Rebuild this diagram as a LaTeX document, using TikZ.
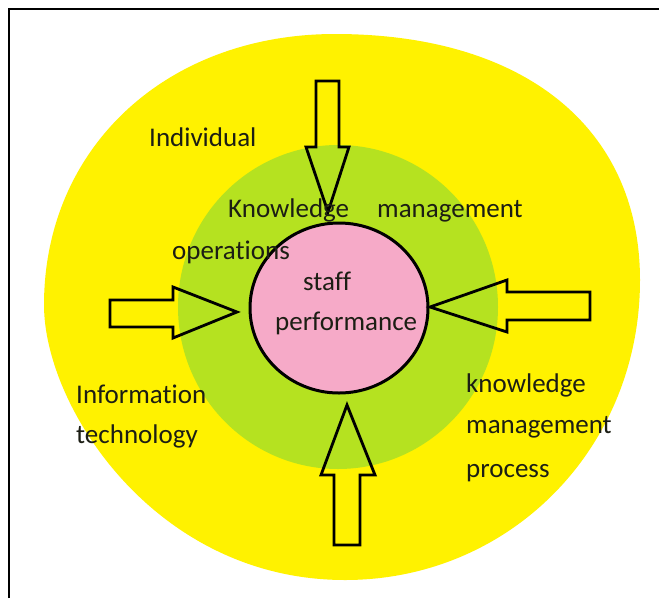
\documentclass[tikz,border=0pt]{standalone}
\usepackage{fontspec}
\setmainfont{Carlito}[Ligatures=NoCommon]
\usetikzlibrary{shapes.geometric}
\definecolor{outeryellow}{RGB}{255,242,0}
\definecolor{innergreen}{RGB}{181,226,32}
\definecolor{corepink}{RGB}{246,170,200}
\definecolor{inktext}{RGB}{28,30,20}
\begin{document}
\begin{tikzpicture}[x=1pt,y=-1pt,
  lbl/.style={anchor=base west, inner sep=0pt, font=\fontsize{27}{27}\selectfont, text=inktext},
  blockarrow/.style={draw=black, line width=2.8pt, line join=miter},
]
\useasboundingbox (0,0) rectangle (659,598);
\fill[white] (0,0) rectangle (659,598);

% frame (left and top edges only)
\draw[line width=2.2pt] (9,598) -- (9,9) -- (659,9);

% outer yellow region, four quarter curves
\fill[outeryellow] (335,34)
  .. controls (524.1,34) and (640,127.5) .. (640,280)
  .. controls (640,448) and (510.2,580) .. (345,580)
  .. controls (155.4,580) and (44,406.8) .. (44,305)
  .. controls (44,147.8) and (166.2,34) .. (335,34) -- cycle;

% green ring
\fill[innergreen] (338,307) ellipse [x radius=160pt, y radius=162pt];

% pink core
\node[ellipse, draw=black, line width=3pt, fill=corepink,
      minimum width=178pt, minimum height=170pt, inner sep=0pt] (core) at (339,308) {};

% block arrows pointing at the core
\draw[blockarrow] (316,81) -- (339,81) -- (339,147) -- (349,147) -- (328,212)
  -- (306,147) -- (316,147) -- cycle;
\draw[blockarrow] (110,300) -- (173,300) -- (173,287) -- (237,312) -- (173,338)
  -- (173,327) -- (110,327) -- cycle;
\draw[blockarrow] (590,292) -- (507,292) -- (507,280) -- (430,307) -- (507,332)
  -- (507,320) -- (590,320) -- cycle;
\draw[blockarrow] (334,545) -- (334,475) -- (321,475) -- (347,405) -- (375,475)
  -- (360,475) -- (360,545) -- cycle;

% labels
\node[lbl] (individual) at (149,146) {Individual};
\node[lbl] (kmA) at (228,217) {Knowledge};
\node[lbl] (kmB) at (377,217) {management};
\node[lbl] (ops) at (172,259) {operations};
\node[lbl] (staff) at (303,290) {staff};
\node[lbl] (perf) at (275,330) {performance};
\node[lbl] (itA) at (76,403) {Information};
\node[lbl] (itB) at (76,443) {technology};
\node[lbl] (kpA) at (466,392) {knowledge};
\node[lbl] (kpB) at (466,433) {management};
\node[lbl] (kpC) at (466,477) {process};
\end{tikzpicture}
\end{document}
